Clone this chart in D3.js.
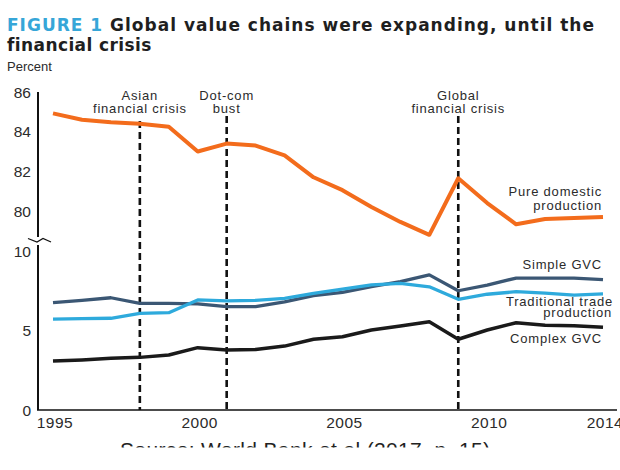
<!DOCTYPE html>
<html>
<head>
<meta charset="utf-8">
<script src="https://cdn.jsdelivr.net/npm/d3@7"></script>
<style>
  body { margin: 0; background: #fff; }
  svg { display: block; font-family: "Liberation Sans", Arial, sans-serif; }
</style>
</head>
<body>
<svg id="chart" width="620" height="470"></svg>
<script>
const years = d3.range(1995, 2015);
const pureDomestic = [84.92, 84.6, 84.47, 84.4, 84.25, 83.0, 83.4, 83.3, 82.8, 81.7, 81.05, 80.2, 79.45, 78.8, 81.65, 80.4, 79.33, 79.6, 79.65, 79.7];
const simpleGVC = [6.75, 6.9, 7.06, 6.71, 6.7, 6.67, 6.5, 6.5, 6.8, 7.2, 7.4, 7.76, 8.07, 8.5, 7.5, 7.86, 8.3, 8.3, 8.3, 8.2];
const traditional = [5.72, 5.75, 5.77, 6.08, 6.12, 6.92, 6.86, 6.9, 7.02, 7.34, 7.6, 7.87, 7.97, 7.75, 6.96, 7.28, 7.44, 7.35, 7.23, 7.3];
const complexGVC = [3.08, 3.15, 3.25, 3.31, 3.46, 3.92, 3.77, 3.8, 4.02, 4.45, 4.61, 5.03, 5.28, 5.55, 4.45, 5.03, 5.49, 5.33, 5.3, 5.2];

const upperTicks = [86, 84, 82, 80];
const lowerTicks = [10, 5, 0];
const xTicks = [1995, 2000, 2005, 2010, 2014];
const events = [
  { year: 1998, lines: ["Asian", "financial crisis"] },
  { year: 2001, lines: ["Dot-com", "bust"] },
  { year: 2009, lines: ["Global", "financial crisis"] }
];

const svg = d3.select("#chart");
const ink = "#2b2b2b";

const x = d3.scaleLinear().domain([1995, 2014]).range([53, 603]);
const yTop = d3.scaleLinear().domain([80, 86]).range([211, 92]);
const yBot = d3.scaleLinear().domain([0, 10]).range([410, 251]);
const axisX = 38;

// title
const title = svg.append("text").attr("x", 7).attr("y", 31)
  .attr("textLength", 587).attr("lengthAdjust", "spacing")
  .style("font-family", "'DejaVu Sans', sans-serif")
  .style("font-size", "17px").style("font-weight", "bold");
title.append("tspan").attr("fill", "#36a6d8").text("FIGURE 1 ");
title.append("tspan").attr("fill", "#1f1f1f").text("Global value chains were expanding, until the");
svg.append("text").attr("x", 7).attr("y", 51)
  .style("font-family", "'DejaVu Sans', sans-serif")
  .style("font-size", "17px").style("font-weight", "bold").attr("fill", "#1f1f1f")
  .style("letter-spacing", "0.4px")
  .text("financial crisis");
svg.append("text").attr("x", 7).attr("y", 71)
  .style("font-size", "13px").attr("fill", ink).text("Percent");

// y axis, broken
svg.append("line").attr("x1", axisX).attr("x2", axisX).attr("y1", 92).attr("y2", 237)
  .attr("stroke", "#111").attr("stroke-width", 2);
svg.append("line").attr("x1", axisX).attr("x2", axisX).attr("y1", 245).attr("y2", 410)
  .attr("stroke", "#111").attr("stroke-width", 2);
svg.append("path")
  .attr("d", d3.line()([[28, 238.5], [37, 242], [43, 238.5], [51, 242]]))
  .attr("fill", "none").attr("stroke", "#111").attr("stroke-width", 1.3);

svg.selectAll(".ytop").data(upperTicks).join("text")
  .attr("x", 31).attr("y", d => yTop(d) + 5.5)
  .attr("text-anchor", "end").style("font-size", "15.5px").attr("fill", ink)
  .text(d => d);
svg.selectAll(".ybot").data(lowerTicks).join("text")
  .attr("x", 31).attr("y", d => yBot(d) + 5.5)
  .attr("text-anchor", "end").style("font-size", "15.5px").attr("fill", ink)
  .text(d => d);

// x axis
svg.append("line").attr("x1", axisX - 1).attr("x2", 617).attr("y1", 410).attr("y2", 410)
  .attr("stroke", "#111").attr("stroke-width", 1.5);
svg.selectAll(".xt").data(xTicks).join("text")
  .attr("x", d => x(d) + 2).attr("y", 428)
  .attr("text-anchor", "middle").style("font-size", "15.5px").attr("fill", ink)
  .style("letter-spacing", "0.5px")
  .text(d => d);

// event lines
const ev = svg.append("g");
ev.selectAll("line").data(events).join("line")
  .attr("x1", d => x(d.year)).attr("x2", d => x(d.year))
  .attr("y1", d => d.year === 1998 ? 121 : 116).attr("y2", 410)
  .attr("stroke", "#111").attr("stroke-width", 2.6).attr("stroke-dasharray", "7,4");
events.forEach(e => {
  e.lines.forEach((t, i) => {
    ev.append("text").attr("x", x(e.year)).attr("y", 100 + i * 13)
      .attr("text-anchor", "middle").style("font-size", "13px")
      .style("letter-spacing", "0.8px").attr("fill", ink).text(t);
  });
});

// series
const lineTop = d3.line().x((d, i) => x(years[i])).y(d => yTop(d));
const lineBot = d3.line().x((d, i) => x(years[i])).y(d => yBot(d));

svg.append("path").attr("d", lineBot(simpleGVC)).attr("fill", "none")
  .attr("stroke", "#3b5774").attr("stroke-width", 3.3).attr("stroke-linejoin", "round");
svg.append("path").attr("d", lineBot(traditional)).attr("fill", "none")
  .attr("stroke", "#2eaadc").attr("stroke-width", 3.3).attr("stroke-linejoin", "round");
svg.append("path").attr("d", lineBot(complexGVC)).attr("fill", "none")
  .attr("stroke", "#1a1a1a").attr("stroke-width", 3.5).attr("stroke-linejoin", "round");
svg.append("path").attr("d", lineTop(pureDomestic)).attr("fill", "none")
  .attr("stroke", "#f36c1c").attr("stroke-width", 4).attr("stroke-linejoin", "round");

// series labels
const labels = [
  { t: "Pure domestic", x: 602, y: 196 },
  { t: "production", x: 602, y: 210 },
  { t: "Simple GVC", x: 602, y: 269 },
  { t: "Traditional trade", x: 613, y: 306 },
  { t: "production", x: 612, y: 317 },
  { t: "Complex GVC", x: 602, y: 343 }
];
svg.selectAll(".lab").data(labels).join("text")
  .attr("x", d => d.x).attr("y", d => d.y)
  .attr("text-anchor", "end").style("font-size", "13px")
  .style("letter-spacing", "0.8px").attr("fill", ink).text(d => d.t);

// source line, only its top strip survives in the scan
svg.append("clipPath").attr("id", "cut").append("rect")
  .attr("x", 0).attr("y", 436).attr("width", 620).attr("height", 11.5);
svg.append("text").attr("x", 120).attr("y", 456.5)
  .attr("clip-path", "url(#cut)")
  .attr("textLength", 370).attr("lengthAdjust", "spacing")
  .style("font-size", "21px").attr("fill", "#222")
  .text("Source: World Bank et al (2017, p. 15)");
</script>
</body>
</html>
